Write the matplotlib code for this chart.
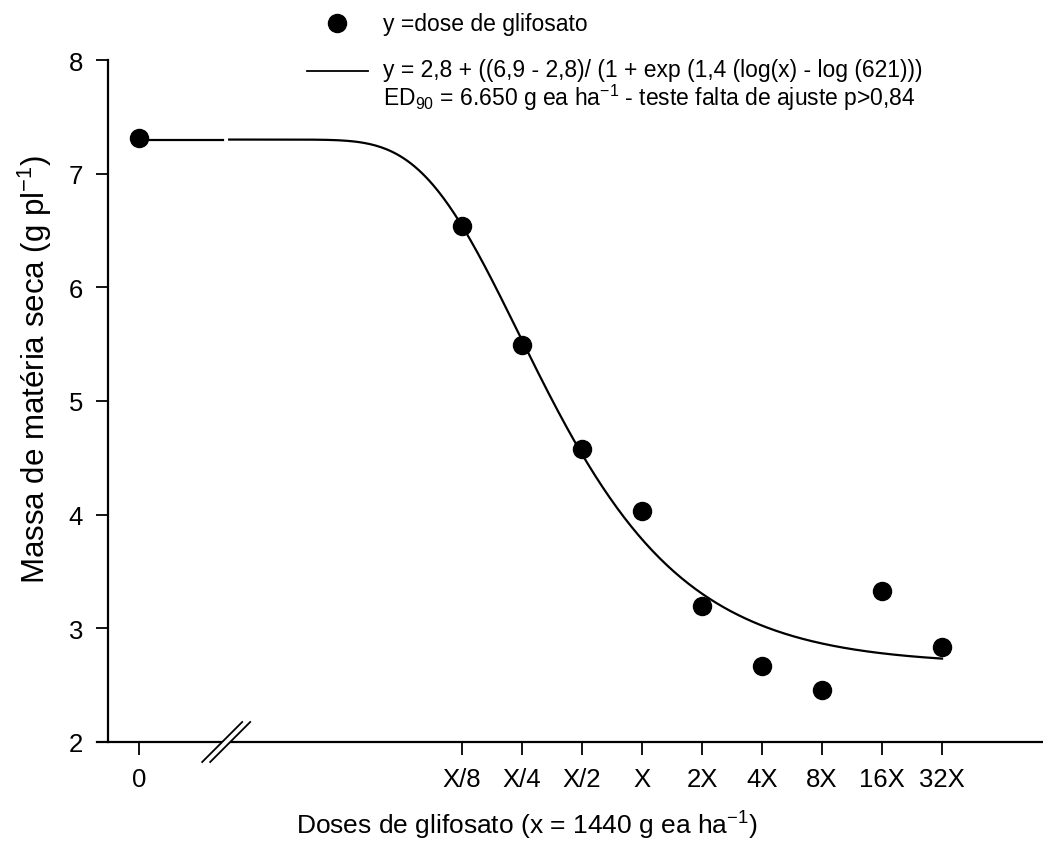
import numpy as np
import matplotlib
matplotlib.use('Agg')
import matplotlib.pyplot as plt
from matplotlib.lines import Line2D
from matplotlib.patches import Polygon

plt.rcParams['font.family'] = ['Liberation Sans', 'DejaVu Sans']
plt.rcParams['mathtext.fontset'] = 'custom'
plt.rcParams['mathtext.rm'] = 'Liberation Sans'
plt.rcParams['mathtext.it'] = 'Liberation Sans:italic'

# dose X = 1440 g ea/ha
X_DOSE = 1440
dose_labels = ['0', 'X/8', 'X/4', 'X/2', 'X', '2X', '4X', '8X', '16X', '32X']
dose_mult = [0, 1/8, 1/4, 1/2, 1, 2, 4, 8, 16, 32]
mass = [7.31, 6.54, 5.49, 4.58, 4.03, 3.20, 2.67, 2.46, 3.33, 2.84]

# fitted curve as drawn (top, bottom, slope per doubling, mid dose)
CURVE_TOP = 7.3
CURVE_BOTTOM = 2.68
CURVE_SLOPE = 0.63
CURVE_MID = 345.0

# where the zero dose sits on the log axis, and the axis break
ZERO_AT = X_DOSE * 2 ** -8.383
BREAK_AT = X_DOSE * 2 ** -6.93
XMIN = X_DOSE * 2 ** -9.083
XMAX = X_DOSE * 2 ** 6.683


def curve(d):
    z = -CURVE_SLOPE * (np.log2(d) - np.log2(CURVE_MID))
    return CURVE_TOP - (CURVE_TOP - CURVE_BOTTOM) * np.exp(-np.exp(z))


doses = np.array([m * X_DOSE if m > 0 else ZERO_AT for m in dose_mult])

fig = plt.figure(figsize=(10.43, 8.45), dpi=100)
W, H = 1043, 845
ax = fig.add_axes([97 / W, 1 - 743 / H, (1043 - 97) / W, (743 - 61) / H])
ax.set_xscale('log', base=2)
ax.set_xlim(XMIN, XMAX)
ax.set_ylim(2, 8)

# curve, split around the axis break
gap = 2 ** 0.05
left = np.geomspace(ZERO_AT, BREAK_AT / gap, 50)
right = np.geomspace(BREAK_AT * gap, 32 * X_DOSE, 400)
ax.plot(left, curve(left), color='black', lw=1.6, zorder=2)
ax.plot(right, curve(right), color='black', lw=1.6, zorder=2)

ax.plot(doses, mass, 'o', color='black', ms=13, zorder=3, clip_on=False)

for s in ['top', 'right']:
    ax.spines[s].set_visible(False)
for s in ['left', 'bottom']:
    ax.spines[s].set_linewidth(1.6)
ax.spines['left'].set_position(('axes', 11 / 946))

ax.set_xticks(doses)
ax.set_xticklabels(dose_labels)
ax.minorticks_off()
ax.set_yticks(range(2, 9))
ax.tick_params(axis='both', direction='out', length=9, width=1.3, labelsize=18.5)
ax.tick_params(axis='y', pad=9)
ax.tick_params(axis='x', pad=9)

ax.set_xlabel('Doses de glifosato (x = 1440 g ea ha$\\mathregular{^{-1}}$)', fontsize=19)
ax.xaxis.set_label_coords((527 - 97) / 946, -(810 - 743) / 682)
ax.set_ylabel('Massa de matéria seca (g pl$\\mathregular{^{-1}}$)', fontsize=22.5)
ax.yaxis.set_label_coords(-(97 - 54) / 946, (743 - 369) / 682)

# axis break marks
bx = ax.transAxes.inverted().transform(ax.transData.transform((BREAK_AT, 2)))[0]
sx, sy = 20 / 946, 20 / 682
off = 4 / 946
ax.add_patch(Polygon([(bx - off - sx, -sy), (bx + off - sx, -sy), (bx + off + sx, sy), (bx - off + sx, sy)],
                     closed=True, transform=ax.transAxes, facecolor='white', edgecolor='none',
                     clip_on=False, zorder=4))
for o in (-off, off):
    ax.add_line(Line2D([bx + o - sx, bx + o + sx], [-sy, sy], transform=ax.transAxes,
                       color='black', lw=1.3, clip_on=False, zorder=5))

# legend drawn by hand
def fx(px):
    return px / W


def fy(py):
    return 1 - py / H


fig.add_artist(Line2D([fx(337)], [fy(24)], marker='o', color='black', ms=13, transform=fig.transFigure))
fig.add_artist(Line2D([fx(307), fx(368)], [fy(72), fy(72)], color='black', lw=1.3, transform=fig.transFigure))
fig.text(fx(383), fy(24), 'y =dose de glifosato', fontsize=16.5, va='center', ha='left')
fig.text(fx(383), fy(70), 'y = 2,8 + ((6,9 - 2,8)/ (1 + exp (1,4 (log(x) - log (621)))',
         fontsize=16.5, va='center', ha='left')
fig.text(fx(383), fy(98), 'ED$\\mathregular{_{90}}$ = 6.650 g ea ha$\\mathregular{^{-1}}$ - teste falta de ajuste p>0,84',
         fontsize=16.5, va='center', ha='left')

fig.savefig('out.png', dpi=100)
